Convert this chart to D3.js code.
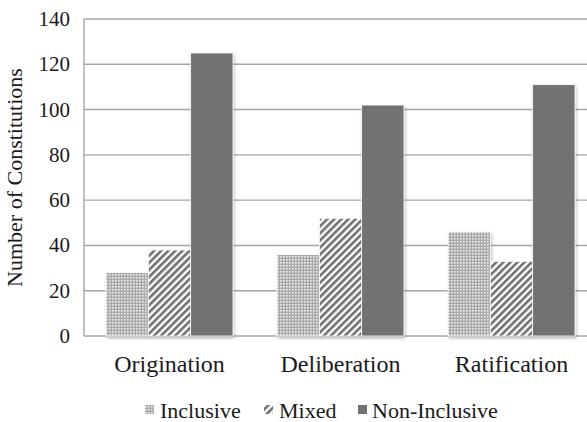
<!DOCTYPE html>
<html>
<head>
<meta charset="utf-8">
<script src="https://cdn.jsdelivr.net/npm/d3@7"></script>
<style>
  html, body { margin: 0; padding: 0; background: #fff; }
</style>
</head>
<body>
<div id="chart"></div>
<script>
// Stages of constitution making and the number of constitutions per participation type
const stages = ["Origination", "Deliberation", "Ratification"];
const seriesNames = ["Inclusive", "Mixed", "Non-Inclusive"];
const inclusive = [28, 36, 46];
const mixed = [38, 52, 33];
const nonInclusive = [125, 102, 111];
const yTicks = [0, 20, 40, 60, 80, 100, 120, 140];
const yTitle = "Number of Constitutions";

const seriesValues = [inclusive, mixed, nonInclusive];

const width = 587, height = 422;
const margin = { left: 84, top: 19, right: -10, bottom: 86 };
const plotRight = width - margin.right;
const plotBottom = height - margin.bottom;

const svg = d3.select("#chart").append("svg")
  .attr("width", width).attr("height", height);

// every label uses the same serif face
function serif(sel, size) {
  return sel.attr("font-family", "Liberation Serif")
    .style("font-family", '"Liberation Serif", serif', "important")
    .style("font-size", size + "px", "important")
    .attr("fill", "#1a1a1a");
}

const defs = svg.append("defs");

// fine dotted-grid fill for the inclusive series
const pDots = defs.append("pattern").attr("id", "pat-incl")
  .attr("patternUnits", "userSpaceOnUse").attr("width", 3).attr("height", 3);
pDots.append("rect").attr("width", 3).attr("height", 3).attr("fill", "#a9a9a9");
pDots.append("rect").attr("x", 1).attr("y", 1).attr("width", 1.6).attr("height", 1.6).attr("fill", "#eeeeee");

// diagonal hatching for the mixed series
const pHatch = defs.append("pattern").attr("id", "pat-mixed")
  .attr("patternUnits", "userSpaceOnUse").attr("width", 5).attr("height", 5)
  .attr("patternTransform", "rotate(45)");
pHatch.append("rect").attr("width", 5).attr("height", 5).attr("fill", "#ffffff");
pHatch.append("rect").attr("width", 2.6).attr("height", 5).attr("fill", "#6f6f6f");

const fills = ["url(#pat-incl)", "url(#pat-mixed)", "#727272"];

// soft shadow under each bar
const shadow = defs.append("filter").attr("id", "shadow")
  .attr("x", "-20%").attr("y", "-10%").attr("width", "140%").attr("height", "120%");
shadow.append("feDropShadow").attr("dx", 1).attr("dy", 2)
  .attr("stdDeviation", 1.8).attr("flood-color", "#000").attr("flood-opacity", 0.28);

const y = d3.scaleLinear().domain([0, 140]).range([plotBottom, margin.top]);
const x0 = d3.scaleBand().domain(stages).range([margin.left, plotRight]).padding(0);
const x1 = d3.scaleBand().domain(seriesNames).range([0, x0.bandwidth()])
  .paddingInner(0).paddingOuter(0.52);

// gridlines
svg.selectAll(null).data(yTicks).enter().append("line")
  .attr("x1", margin.left).attr("x2", plotRight)
  .attr("y1", d => y(d)).attr("y2", d => y(d))
  .attr("stroke", "#a6a6a6").attr("stroke-width", 1.4);

// y axis line
svg.append("line")
  .attr("x1", margin.left).attr("x2", margin.left)
  .attr("y1", y(140)).attr("y2", y(0))
  .attr("stroke", "#a6a6a6").attr("stroke-width", 1.4);

// y tick labels
serif(svg.selectAll(null).data(yTicks).enter().append("text")
  .attr("x", margin.left - 14).attr("y", d => y(d) + 7)
  .attr("text-anchor", "end")
  .text(d => d3.format("d")(d)), 21);

// bars
const bars = stages.flatMap((stage, i) =>
  seriesNames.map((s, j) => ({ stage, s, j, v: seriesValues[j][i] })));

svg.selectAll(null).data(bars).enter().append("rect")
  .attr("x", d => x0(d.stage) + x1(d.s))
  .attr("y", d => y(d.v))
  .attr("width", x1.bandwidth())
  .attr("height", d => y(0) - y(d.v))
  .attr("fill", d => fills[d.j])
  .attr("stroke", "#ffffff").attr("stroke-width", 0.8)
  .attr("filter", "url(#shadow)");

// category labels
serif(svg.selectAll(null).data(stages).enter().append("text")
  .attr("x", d => x0(d) + x0.bandwidth() / 2).attr("y", plotBottom + 36)
  .attr("text-anchor", "middle")
  .text(d => d), 24);

// y axis title
serif(svg.append("text")
  .attr("transform", `translate(22,${(margin.top + plotBottom) / 2}) rotate(-90)`)
  .attr("text-anchor", "middle")
  .text(yTitle), 22);

// legend
const legendX = [145, 264, 358];
svg.selectAll(null).data(seriesNames).enter().append("rect")
  .attr("x", (d, i) => legendX[i]).attr("y", 405).attr("width", 9).attr("height", 9)
  .attr("fill", (d, i) => fills[i]);
serif(svg.selectAll(null).data(seriesNames).enter().append("text")
  .attr("x", (d, i) => legendX[i] + (i === 2 ? 14 : 15)).attr("y", 418)
  .text(d => d), 22);
</script>
</body>
</html>
